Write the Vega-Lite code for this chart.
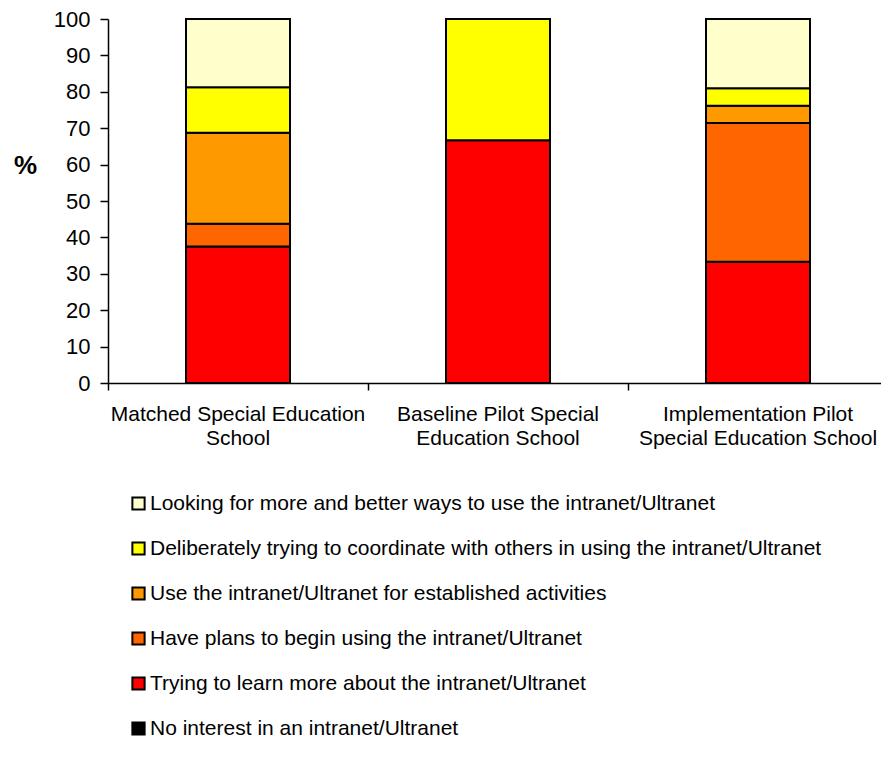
{
  "$schema": "https://vega.github.io/schema/vega-lite/v6.json",
  "autosize": "none",
  "width": 772,
  "height": 364,
  "padding": {"left": 108, "top": 19, "right": 1, "bottom": 376},
  "background": "white",
  "config": {
    "font": "Liberation Sans",
    "view": {"stroke": null}
  },
  "data": {
    "values": [
      {"school": "Matched Special Education School", "stage": "Trying to learn more about the intranet/Ultranet", "level": 1, "pct": 37.5},
      {"school": "Matched Special Education School", "stage": "Have plans to begin using the intranet/Ultranet", "level": 2, "pct": 6.25},
      {"school": "Matched Special Education School", "stage": "Use the intranet/Ultranet for established activities", "level": 3, "pct": 25},
      {"school": "Matched Special Education School", "stage": "Deliberately trying to coordinate with others in using the intranet/Ultranet", "level": 4, "pct": 12.5},
      {"school": "Matched Special Education School", "stage": "Looking for more and better ways to use the intranet/Ultranet", "level": 5, "pct": 18.75},
      {"school": "Baseline Pilot Special Education School", "stage": "Trying to learn more about the intranet/Ultranet", "level": 1, "pct": 66.67},
      {"school": "Baseline Pilot Special Education School", "stage": "Deliberately trying to coordinate with others in using the intranet/Ultranet", "level": 4, "pct": 33.33},
      {"school": "Implementation Pilot Special Education School", "stage": "Trying to learn more about the intranet/Ultranet", "level": 1, "pct": 33.33},
      {"school": "Implementation Pilot Special Education School", "stage": "Have plans to begin using the intranet/Ultranet", "level": 2, "pct": 38.1},
      {"school": "Implementation Pilot Special Education School", "stage": "Use the intranet/Ultranet for established activities", "level": 3, "pct": 4.76},
      {"school": "Implementation Pilot Special Education School", "stage": "Deliberately trying to coordinate with others in using the intranet/Ultranet", "level": 4, "pct": 4.76},
      {"school": "Implementation Pilot Special Education School", "stage": "Looking for more and better ways to use the intranet/Ultranet", "level": 5, "pct": 19.05}
    ]
  },
  "mark": {"type": "bar", "stroke": "black", "strokeWidth": 2},
  "encoding": {
    "x": {
      "field": "school",
      "type": "nominal",
      "sort": ["Matched Special Education School", "Baseline Pilot Special Education School", "Implementation Pilot Special Education School"],
      "scale": {"range": [0, 780], "paddingInner": 0.6, "paddingOuter": 0.3},
      "axis": {
        "title": null,
        "labelAngle": 0,
        "labelExpr": "datum.label == 'Matched Special Education School' ? ['Matched Special Education', 'School'] : datum.label == 'Baseline Pilot Special Education School' ? ['Baseline Pilot Special', 'Education School'] : ['Implementation Pilot', 'Special Education School']",
        "labelFontSize": 21,
        "labelColor": "black",
        "labelLineHeight": 24,
        "labelPadding": 13,
        "labelLimit": 300,
        "bandPosition": -0.75,
        "tickColor": "black",
        "tickSize": 7,
        "tickWidth": 1.5,
        "domainColor": "black",
        "domainWidth": 1.5
      }
    },
    "y": {
      "field": "pct",
      "type": "quantitative",
      "stack": "zero",
      "scale": {"domain": [0, 100], "nice": false},
      "axis": {
        "title": "%",
        "titleAngle": 0,
        "titleFontSize": 26,
        "titleFontWeight": "bold",
        "titleColor": "black",
        "titleX": -83,
        "titleY": 159,
        "titleAlign": "center",
        "values": [0, 10, 20, 30, 40, 50, 60, 70, 80, 90, 100],
        "labelFontSize": 22,
        "labelColor": "black",
        "labelPadding": 10,
        "tickColor": "black",
        "tickSize": 8,
        "tickWidth": 1.5,
        "domainColor": "black",
        "domainWidth": 1.5,
        "grid": false
      }
    },
    "color": {
      "field": "stage",
      "type": "nominal",
      "scale": {
        "domain": [
          "Looking for more and better ways to use the intranet/Ultranet",
          "Deliberately trying to coordinate with others in using the intranet/Ultranet",
          "Use the intranet/Ultranet for established activities",
          "Have plans to begin using the intranet/Ultranet",
          "Trying to learn more about the intranet/Ultranet",
          "No interest in an intranet/Ultranet"
        ],
        "range": ["#FFFFCC", "#FFFF00", "#FF9900", "#FF6600", "#FF0000", "#000000"]
      },
      "legend": {
        "title": null,
        "orient": "none",
        "legendX": 20,
        "legendY": 474,
        "symbolType": "square",
        "symbolSize": 150,
        "symbolStrokeColor": "black",
        "symbolStrokeWidth": 2,
        "symbolOpacity": 1,
        "labelFontSize": 21,
        "labelColor": "black",
        "labelOffset": 1,
        "labelLimit": 760,
        "rowPadding": 23
      }
    },
    "order": {"field": "level", "sort": "ascending"}
  }
}
